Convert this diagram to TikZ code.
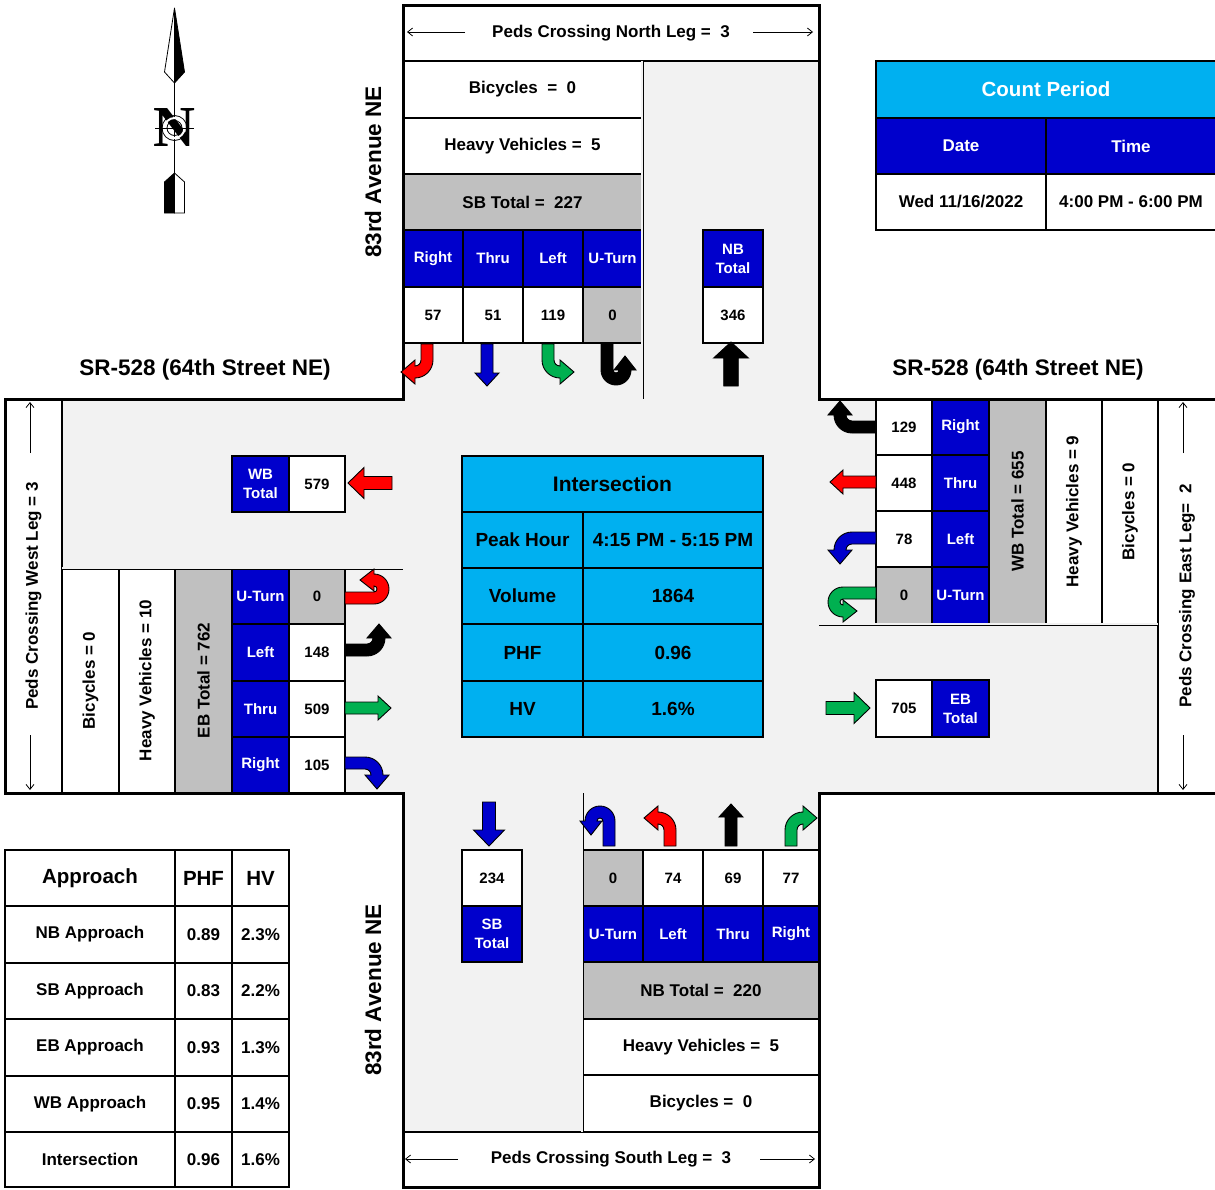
\documentclass[tikz,border=0pt]{standalone}
\usepackage{fontspec}
\setmainfont{Liberation Sans}
\newfontfamily\serifN{Liberation Serif}
\usetikzlibrary{arrows.meta}
\definecolor{tblue}{HTML}{0000CC}
\definecolor{tcyan}{HTML}{00B0F0}
\definecolor{tgray}{HTML}{C0C0C0}
\definecolor{road}{HTML}{F2F2F2}
\definecolor{tred}{HTML}{FF0000}
\definecolor{tgreen}{HTML}{00B050}
\tikzset{
 cellb/.style={rectangle, draw=black, line width=1.6pt, inner sep=0pt, outer sep=0pt, align=center, font=\bfseries\fontsize{17}{20}\selectfont, text=black},
 wcell/.style={cellb, fill=white},
 gcell/.style={cellb, fill=tgray},
 bcell/.style={cellb, fill=tblue, text=white, font=\bfseries\fontsize{15}{19}\selectfont},
 vcell/.style={cellb, fill=white, font=\bfseries\fontsize{15}{19}\selectfont},
 gvcell/.style={cellb, fill=tgray, font=\bfseries\fontsize{15}{19}\selectfont},
 ccell/.style={cellb, fill=tcyan, font=\bfseries\fontsize{19}{22}\selectfont},
 ctitle/.style={cellb, fill=tcyan, font=\bfseries\fontsize{21}{24}\selectfont},
 cptitle/.style={cellb, fill=tcyan, text=white, font=\bfseries\fontsize{20.5}{24}\selectfont},
 bhcell/.style={cellb, fill=tblue, text=white},
 ahcell/.style={cellb, fill=white, font=\bfseries\fontsize{20.5}{24}\selectfont},
 street/.style={inner sep=0pt, font=\bfseries\fontsize{22.5}{26}\selectfont},
 outline/.style={line width=3pt, line join=miter, draw=black},
 median/.style={draw=black, double=road, double distance=1.6pt, line width=0.7pt},
 pedarr/.style={line width=0.8pt, -{Straight Barb[length=5pt,width=8pt]}},
 blockarr/.style={draw=black, line width=0.9pt, line join=miter},
}
\newcommand{\cell}[7]{\node[#2, minimum width={(#5)-(#3)}, minimum height={(#6)-(#4)}] (#1) at ({((#3)+(#5))/2},{((#4)+(#6))/2}) {#7};}
\newcommand{\rcell}[7]{\node[#2, rotate=90, minimum width={(#6)-(#4)}, minimum height={(#5)-(#3)}] (#1) at ({((#3)+(#5))/2},{((#4)+(#6))/2}) {#7};}
% block arrows, local frame: base at origin, travel towards -y (up on screen)
\newcommand{\thruarr}[4]{\begin{scope}[shift={#1},rotate=#2]
 \filldraw[blockarr,fill=#3] (-6,0) -- (-6,{-#4+13}) -- (-12,{-#4+13}) -- (0,-#4) -- (12,{-#4+13}) -- (6,{-#4+13}) -- (6,0) -- cycle;
 \end{scope}}
\newcommand{\bigarr}[4]{\begin{scope}[shift={#1},rotate=#2,xscale=#4]
 \filldraw[blockarr,fill=#3] (-6.5,0) -- (-6.5,-28) -- (-15.5,-28) -- (0,-44) -- (15.5,-28) -- (6.5,-28) -- (6.5,0) -- cycle;
 \end{scope}}
\newcommand{\rturnarr}[4]{\begin{scope}[shift={#1},rotate=#2]
 \filldraw[blockarr,fill=#3] (-6,0) -- (-6,-#4) .. controls (-6,{-#4-9.94}) and (2.06,{-#4-18}) .. (12,{-#4-18}) -- (12,{-#4-24}) -- (26,{-#4-12}) -- (12,-#4) -- (12,{-#4-6}) .. controls (8.69,{-#4-6}) and (6,{-#4-3.31}) .. (6,-#4) -- (6,0) -- cycle;
 \end{scope}}
\newcommand{\lturnarr}[4]{\begin{scope}[shift={#1},rotate=#2]
 \filldraw[blockarr,fill=#3] (6,0) -- (6,-#4) .. controls (6,{-#4-9.94}) and (-2.06,{-#4-18}) .. (-12,{-#4-18}) -- (-12,{-#4-24}) -- (-26,{-#4-12}) -- (-12,-#4) -- (-12,{-#4-6}) .. controls (-8.69,{-#4-6}) and (-6,{-#4-3.31}) .. (-6,-#4) -- (-6,0) -- cycle;
 \end{scope}}
\newcommand{\uturnarr}[4]{\begin{scope}[shift={#1},rotate=#2]
 \filldraw[blockarr,fill=#3] (6,0) -- (6,-#4) .. controls (6,{-#4-8.28}) and (-0.72,{-#4-15}) .. (-9,{-#4-15}) .. controls (-17.28,{-#4-15}) and (-24,{-#4-8.28}) .. (-24,-#4) -- (-29,-#4) -- (-18,{-#4+14}) -- (-7,-#4) -- (-12,-#4) .. controls (-12,{-#4-1.66}) and (-10.66,{-#4-3}) .. (-9,{-#4-3}) .. controls (-7.34,{-#4-3}) and (-6,{-#4-1.66}) .. (-6,-#4) -- (-6,0) -- cycle;
 \end{scope}}
\begin{document}
\begin{tikzpicture}[x=1pt,y=-1pt]
\useasboundingbox (0,0) rectangle (1215,1189);
\fill[white] (0,0) rectangle (1215,1189);
\fill[road] (403,5) -- (819,5) -- (819,399) -- (1216,399) -- (1216,793) -- (819,793) -- (819,1187) -- (403,1187) -- (403,793) -- (5,793) -- (5,399) -- (403,399) -- cycle;

% ---------- North leg (SB) ----------
\cell{pedsN}{wcell}{403}{5}{819}{61}{Peds Crossing North Leg =~~3}
\cell{nbic}{wcell}{403}{61}{642}{118}{Bicycles~~=~~0}
\cell{nhv}{wcell}{403}{118}{642}{174}{Heavy Vehicles =~~5}
\cell{ntot}{gcell}{403}{174}{642}{230}{SB Total =~~227}
\cell{nh1}{bcell}{403}{230}{463}{287}{Right}
\cell{nh2}{bcell}{463}{230}{523}{287}{Thru}
\cell{nh3}{bcell}{523}{230}{583}{287}{Left}
\cell{nh4}{bcell}{583}{230}{642}{287}{U-Turn}
\cell{nv1}{vcell}{403}{287}{463}{343}{57}
\cell{nv2}{vcell}{463}{287}{523}{343}{51}
\cell{nv3}{vcell}{523}{287}{583}{343}{119}
\cell{nv4}{gvcell}{583}{287}{642}{343}{0}
\cell{nbth}{bcell}{703}{230}{763}{287}{NB\\Total}
\cell{nbtv}{vcell}{703}{287}{763}{343}{346}

% ---------- East leg (WB) ----------
\cell{ev1}{vcell}{876}{399}{932}{455}{129}
\cell{ev2}{vcell}{876}{455}{932}{511}{448}
\cell{ev3}{vcell}{876}{511}{932}{567}{78}
\cell{ev4}{gvcell}{876}{567}{932}{624}{0}
\cell{eh1}{bcell}{932}{399}{989}{455}{Right}
\cell{eh2}{bcell}{932}{455}{989}{511}{Thru}
\cell{eh3}{bcell}{932}{511}{989}{567}{Left}
\cell{eh4}{bcell}{932}{567}{989}{624}{U-Turn}
\rcell{etot}{gcell}{989}{399}{1046}{624}{WB Total = 655}
\rcell{ehv}{wcell}{1046}{399}{1102}{624}{Heavy Vehicles = 9}
\rcell{ebic}{wcell}{1102}{399}{1158}{624}{Bicycles = 0}
\rcell{pedsE}{wcell}{1158}{399}{1216}{793}{Peds Crossing East Leg=~~2}
\cell{ebtv}{vcell}{876}{680}{932}{737}{705}
\cell{ebth}{bcell}{932}{680}{989}{737}{EB\\Total}

% ---------- West leg (EB) ----------
\rcell{pedsW}{wcell}{5}{399}{62}{793}{Peds Crossing West Leg = 3}
\rcell{wbic}{wcell}{62}{568}{119}{793}{Bicycles = 0}
\rcell{whv}{wcell}{119}{568}{175}{793}{Heavy Vehicles = 10}
\rcell{wtot}{gcell}{175}{568}{232}{793}{EB Total = 762}
\cell{wh1}{bcell}{232}{568}{289}{624}{U-Turn}
\cell{wh2}{bcell}{232}{624}{289}{681}{Left}
\cell{wh3}{bcell}{232}{681}{289}{737}{Thru}
\cell{wh4}{bcell}{232}{737}{289}{793}{Right}
\cell{wv1}{gvcell}{289}{568}{345}{624}{0}
\cell{wv2}{vcell}{289}{624}{345}{681}{148}
\cell{wv3}{vcell}{289}{681}{345}{737}{509}
\cell{wv4}{vcell}{289}{737}{345}{793}{105}
\cell{wbth}{bcell}{232}{456}{289}{512}{WB\\Total}
\cell{wbtv}{vcell}{289}{456}{345}{512}{579}

% ---------- South leg (NB) ----------
\cell{sv1}{gvcell}{583}{850}{643}{906}{0}
\cell{sv2}{vcell}{643}{850}{703}{906}{74}
\cell{sv3}{vcell}{703}{850}{763}{906}{69}
\cell{sv4}{vcell}{763}{850}{819}{906}{77}
\cell{sh1}{bcell}{583}{906}{643}{962}{U-Turn}
\cell{sh2}{bcell}{643}{906}{703}{962}{Left}
\cell{sh3}{bcell}{703}{906}{763}{962}{Thru}
\cell{sh4}{bcell}{763}{906}{819}{962}{Right}
\cell{stot}{gcell}{583}{962}{819}{1019}{NB Total =~~220}
\cell{shv}{wcell}{583}{1019}{819}{1075}{Heavy Vehicles =~~5}
\cell{sbic}{wcell}{583}{1075}{819}{1132}{Bicycles =~~0}
\cell{pedsS}{wcell}{403}{1132}{819}{1187}{Peds Crossing South Leg =~~3}
\cell{sbtv}{vcell}{462}{850}{522}{906}{234}
\cell{sbth}{bcell}{462}{906}{522}{962}{SB\\Total}

% ---------- Intersection table ----------
\cell{it0}{ctitle}{462}{456}{763}{512}{Intersection}
\cell{ia1}{ccell}{462}{512}{583}{568}{Peak Hour}
\cell{ib1}{ccell}{583}{512}{763}{568}{4:15 PM - 5:15 PM}
\cell{ia2}{ccell}{462}{568}{583}{624}{Volume}
\cell{ib2}{ccell}{583}{568}{763}{624}{1864}
\cell{ia3}{ccell}{462}{624}{583}{681}{PHF}
\cell{ib3}{ccell}{583}{624}{763}{681}{0.96}
\cell{ia4}{ccell}{462}{681}{583}{737}{HV}
\cell{ib4}{ccell}{583}{681}{763}{737}{1.6\%}

% ---------- Count period ----------
\cell{cp0}{cptitle}{876}{61}{1216}{118}{Count Period}
\cell{cph1}{bhcell}{876}{118}{1046}{174}{Date}
\cell{cph2}{bhcell}{1046}{118}{1216}{174}{Time}
\cell{cpv1}{wcell}{876}{174}{1046}{230}{Wed 11/16/2022}
\cell{cpv2}{wcell}{1046}{174}{1216}{230}{4:00 PM - 6:00 PM}

% ---------- Approach table ----------
\cell{ap0}{ahcell}{5}{850}{175}{906}{Approach}
\cell{ap1}{ahcell}{175}{850}{232}{906}{PHF}
\cell{ap2}{ahcell}{232}{850}{289}{906}{HV}
\cell{an0}{wcell}{5}{906}{175}{963}{NB Approach}
\cell{an1}{wcell}{175}{906}{232}{963}{0.89}
\cell{an2}{wcell}{232}{906}{289}{963}{2.3\%}
\cell{as0}{wcell}{5}{963}{175}{1019}{SB Approach}
\cell{as1}{wcell}{175}{963}{232}{1019}{0.83}
\cell{as2}{wcell}{232}{963}{289}{1019}{2.2\%}
\cell{ae0}{wcell}{5}{1019}{175}{1076}{EB Approach}
\cell{ae1}{wcell}{175}{1019}{232}{1076}{0.93}
\cell{ae2}{wcell}{232}{1019}{289}{1076}{1.3\%}
\cell{aw0}{wcell}{5}{1076}{175}{1132}{WB Approach}
\cell{aw1}{wcell}{175}{1076}{232}{1132}{0.95}
\cell{aw2}{wcell}{232}{1076}{289}{1132}{1.4\%}
\cell{ai0}{wcell}{5}{1132}{175}{1187}{Intersection}
\cell{ai1}{wcell}{175}{1132}{232}{1187}{0.96}
\cell{ai2}{wcell}{232}{1132}{289}{1187}{1.6\%}

% ---------- medians ----------
\draw[median] (642,61) -- (642,399);
\draw[median] (62,568) -- (403,568);
\draw[median] (819,624) -- (1158,624);
\draw[median] (582,793) -- (582,1132);

% ---------- road outline ----------
\draw[outline] (1217,399) -- (819,399) -- (819,5) -- (403,5) -- (403,399) -- (5,399) -- (5,793) -- (403,793) -- (403,1187) -- (819,1187) -- (819,793) -- (1217,793);

% ---------- peds arrows ----------
\coordinate (pn1) at (465,32); \coordinate (pn1t) at (407,32);
\coordinate (pn2) at (753,32); \coordinate (pn2t) at (813,32);
\draw[pedarr] (pn1) -- (pn1t); \draw[pedarr] (pn2) -- (pn2t);
\coordinate (ps1) at (458,1159); \coordinate (ps1t) at (405,1159);
\coordinate (ps2) at (760,1159); \coordinate (ps2t) at (815,1159);
\draw[pedarr] (ps1) -- (ps1t); \draw[pedarr] (ps2) -- (ps2t);
\coordinate (pw1) at (30,453); \coordinate (pw1t) at (30,402);
\coordinate (pw2) at (30,735); \coordinate (pw2t) at (30,790);
\draw[pedarr] (pw1) -- (pw1t); \draw[pedarr] (pw2) -- (pw2t);
\coordinate (pe1) at (1183,453); \coordinate (pe1t) at (1183,402);
\coordinate (pe2) at (1183,735); \coordinate (pe2t) at (1183,790);
\draw[pedarr] (pe1) -- (pe1t); \draw[pedarr] (pe2) -- (pe2t);

% ---------- movement arrows ----------
% SB
\rturnarr{(427,344)}{180}{tred}{16}
\thruarr{(487,344)}{180}{tblue}{42}
\lturnarr{(548,344)}{180}{tgreen}{16}
\uturnarr{(607,344)}{180}{black}{26}
% NB
\uturnarr{(609,846)}{0}{tblue}{25}
\lturnarr{(670,846)}{0}{tred}{16}
\thruarr{(731,846)}{0}{black}{42}
\rturnarr{(791,846)}{0}{tgreen}{16}
% EB
\uturnarr{(345,598)}{-90}{tred}{29}
\lturnarr{(345,650)}{-90}{black}{22}
\thruarr{(345,708)}{-90}{tgreen}{46}
\rturnarr{(345,763)}{-90}{tblue}{20}
% WB
\rturnarr{(876,427)}{90}{black}{24}
\thruarr{(876,482)}{90}{tred}{46}
\lturnarr{(876,538)}{90}{tblue}{24}
\uturnarr{(876,593)}{90}{tgreen}{33}
% totals
\bigarr{(731,386)}{0}{black}{1.12}
\bigarr{(489,802)}{180}{tblue}{1}
\bigarr{(392,483)}{90}{tred}{1}
\bigarr{(826,708)}{-90}{tgreen}{1}

% ---------- street names ----------
\node[street] (sr1) at (205,370) {SR-528 (64th Street NE)};
\node[street] (sr2) at (1018,370) {SR-528 (64th Street NE)};
\node[street, rotate=90] (av1) at (373,172) {83rd Avenue NE};
\node[street, rotate=90] (av2) at (373,990) {83rd Avenue NE};

% ---------- north arrow ----------
\draw[line width=0.9pt] (174.5,12) -- (174.5,213);
\filldraw[draw=black, fill=white, line width=0.8pt] (174.5,8) -- (164.5,72) -- (174.5,83) -- cycle;
\filldraw[draw=black, fill=black, line width=0.8pt] (174.5,8) -- (184.5,72) -- (174.5,83) -- cycle;
\filldraw[draw=black, fill=black, line width=0.8pt] (174.5,173) -- (164.5,182) -- (164.5,213) -- (174.5,213) -- cycle;
\filldraw[draw=black, fill=white, line width=0.8pt] (174.5,173) -- (184.5,182) -- (184.5,213) -- (174.5,213) -- cycle;
\node[inner sep=0pt, font=\serifN\bfseries\fontsize{58}{58}\selectfont] (nlet) at (174.5,128) {N};
\draw[white, line width=2pt] (174.5,128) circle[radius=10];
\draw[black, line width=0.8pt] (174.5,128) circle[radius=12.5];
\draw[black, line width=0.8pt] (174.5,128) circle[radius=7.5];
\draw[black, line width=0.8pt] (155,128) -- (194,128);
\end{tikzpicture}
\end{document}
